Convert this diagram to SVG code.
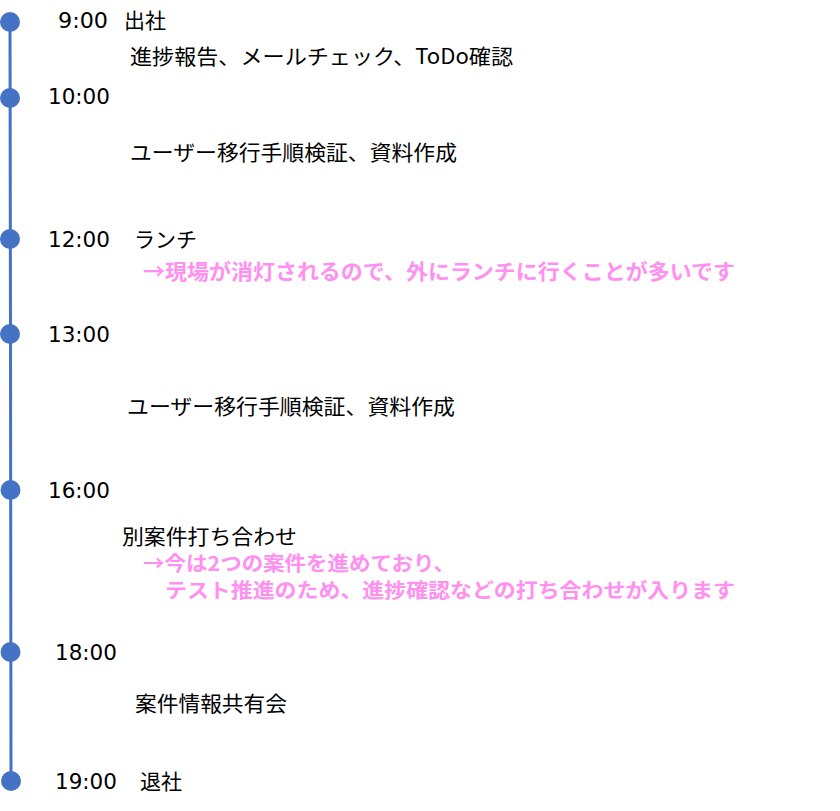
<svg xmlns="http://www.w3.org/2000/svg" width="840" height="811" viewBox="0 0 840 811">
<style>
.t{font-family:"Noto Sans CJK JP","Noto Sans",sans-serif;font-size:21px;fill:#000}
.h{font-family:"DejaVu Sans","Noto Sans",sans-serif;font-size:21px;fill:#000}
.p{font-family:"Noto Sans CJK JP","Noto Sans",sans-serif;font-size:21px;font-weight:bold;fill:#FF8FF0}
.dot{fill:#4472C4}
</style>
<rect width="840" height="811" fill="#fff"/>
<g id="connectors">
<path d="M10,22 L10.5,334 L11,781" fill="none" stroke="#4472C4" stroke-width="3"/>
</g>
<g id="n0900"><circle class="dot" cx="10" cy="22" r="10"/><text class="h" x="58" y="28" textLength="50" lengthAdjust="spacingAndGlyphs">9:00</text><text class="t" x="124" y="28">出社</text></g>
<g id="d0900"><text class="t" x="130" y="64" textLength="383" lengthAdjust="spacingAndGlyphs">進捗報告、メールチェック、ToDo確認</text></g>
<g id="n1000"><circle class="dot" cx="10" cy="98" r="10"/><text class="h" x="48" y="104" textLength="62" lengthAdjust="spacingAndGlyphs">10:00</text></g>
<g id="d1000"><text class="t" x="130" y="160" textLength="327" lengthAdjust="spacingAndGlyphs">ユーザー移行手順検証、資料作成</text></g>
<g id="n1200"><circle class="dot" cx="10" cy="239" r="10"/><text class="h" x="48" y="247" textLength="62" lengthAdjust="spacingAndGlyphs">12:00</text><text class="t" x="134" y="247">ランチ</text></g>
<g id="d1200"><text class="p" x="143" y="279" textLength="592" lengthAdjust="spacingAndGlyphs">→現場が消灯されるので、外にランチに行くことが多いです</text></g>
<g id="n1300"><circle class="dot" cx="10" cy="334" r="10"/><text class="h" x="48" y="342" textLength="62" lengthAdjust="spacingAndGlyphs">13:00</text></g>
<g id="d1300"><text class="t" x="127" y="414" textLength="328" lengthAdjust="spacingAndGlyphs">ユーザー移行手順検証、資料作成</text></g>
<g id="n1600"><circle class="dot" cx="10.5" cy="490" r="10"/><text class="h" x="48" y="498" textLength="62" lengthAdjust="spacingAndGlyphs">16:00</text></g>
<g id="d1600"><text class="t" x="122" y="544" textLength="175" lengthAdjust="spacingAndGlyphs">別案件打ち合わせ</text>
<text class="p" x="143" y="571" style="font-size:20px" textLength="312" lengthAdjust="spacingAndGlyphs">→今は2つの案件を進めており、</text>
<text class="p" x="165" y="598" style="font-size:20px" textLength="570" lengthAdjust="spacingAndGlyphs">テスト推進のため、進捗確認などの打ち合わせが入ります</text></g>
<g id="n1800"><circle class="dot" cx="10.5" cy="652" r="10"/><text class="h" x="55" y="660" textLength="62" lengthAdjust="spacingAndGlyphs">18:00</text></g>
<g id="d1800"><text class="t" x="135" y="711" textLength="152" lengthAdjust="spacingAndGlyphs">案件情報共有会</text></g>
<g id="n1900"><circle class="dot" cx="11" cy="781" r="10"/><text class="h" x="55" y="789" textLength="62" lengthAdjust="spacingAndGlyphs">19:00</text><text class="t" x="140" y="789">退社</text></g>
</svg>
